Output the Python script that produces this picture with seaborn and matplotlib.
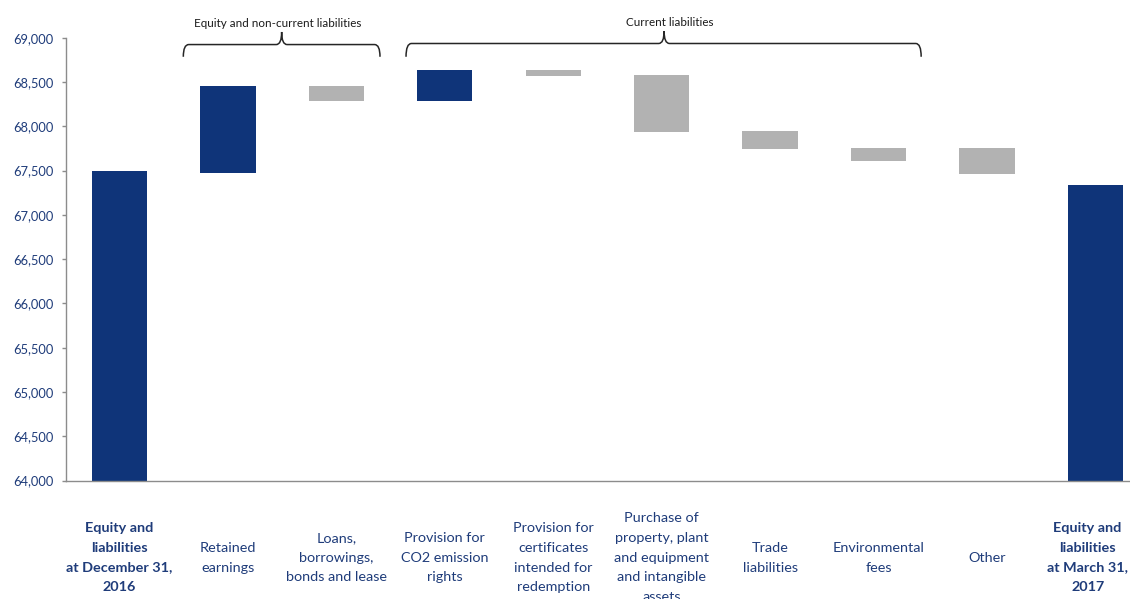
import matplotlib
matplotlib.use("Agg")
import matplotlib.pyplot as plt
from matplotlib.path import Path
from matplotlib.patches import PathPatch
from matplotlib.ticker import FuncFormatter
import seaborn as sns
import pandas as pd

# Movement of equity and liabilities, Dec 31, 2016 -> Mar 31, 2017
categories = [
    "Equity and\nliabilities\nat December 31,\n2016",
    "Retained\nearnings",
    "Loans,\nborrowings,\nbonds and lease",
    "Provision for\nCO2 emission\nrights",
    "Provision for\ncertificates\nintended for\nredemption",
    "Purchase of\nproperty, plant\nand equipment\nand intangible\nassets",
    "Trade\nliabilities",
    "Environmental\nfees",
    "Other",
    "Equity and\nliabilities\nat March 31,\n2017",
]
bar_low = [0, 67470, 68280, 68280, 68570, 67935, 67745, 67607, 67456, 0]
bar_high = [67490, 68460, 68460, 68635, 68635, 68580, 67950, 67757, 67757, 67336]
bar_kind = ["total", "increase", "decrease", "increase", "decrease",
            "decrease", "decrease", "decrease", "decrease", "total"]
y_ticks = [64000, 64500, 65000, 65500, 66000, 66500, 67000, 67500, 68000, 68500, 69000]
group_labels = ["Equity and non-current liabilities", "Current liabilities"]

NAVY = "#0F3479"
GREY = "#B2B2B2"
LABEL_BLUE = "#1F3C7A"
SPINE = "#8C8C8C"

sns.set_theme(style="white")
plt.rcParams["font.family"] = ["Lato", "DejaVu Sans"]

df = pd.DataFrame({
    "category": categories,
    "low": bar_low,
    "high": bar_high,
    "kind": bar_kind,
})
df["span"] = df["high"] - df["low"]
colors = {"total": NAVY, "increase": NAVY, "decrease": GREY}
palette = {c: colors[k] for c, k in zip(df["category"], df["kind"])}

fig = plt.figure(figsize=(11.3, 5.99), dpi=100)
ax = fig.add_axes([0.0584, 0.1978, 0.9416, 0.7392])

sns.barplot(data=df, x="category", y="span", hue="category", palette=palette,
            order=categories, hue_order=categories, width=0.51,
            legend=False, saturation=1, ax=ax)
# float each bar from its lower value
for patch, lo in zip(ax.patches, df["low"]):
    patch.set_y(lo)
    patch.set_linewidth(0)

ax.set_ylim(64000, 69000)
ax.set_xlim(-0.493, 9.32)
ax.set_yticks(y_ticks)
ax.yaxis.set_major_formatter(FuncFormatter(lambda v, _: f"{int(v):,}"))
ax.tick_params(axis="y", colors=SPINE, labelcolor=LABEL_BLUE, labelsize=9.3,
               length=3, width=1, direction="out", left=True, pad=6)
ax.tick_params(axis="x", bottom=False, labelbottom=False)
ax.set_xlabel("")
ax.set_ylabel("")
for side in ["top", "right"]:
    ax.spines[side].set_visible(False)
for side in ["left", "bottom"]:
    ax.spines[side].set_color(SPINE)
    ax.spines[side].set_linewidth(1)

# category labels, centred in a band below the axis
for i, lab in enumerate(categories):
    bold = bar_kind[i] == "total"
    dx = -5.5 if i == len(categories) - 1 else 0
    ax.annotate(lab, xy=(i, 0), xycoords=("data", "axes fraction"),
                xytext=(dx, -55.5), textcoords="offset points",
                ha="center", va="center", fontsize=10.4,
                fontweight="bold" if bold else "normal",
                color=LABEL_BLUE, linespacing=1.78, annotation_clip=False)


def brace(ax, x0, x1, xm, y_end, y_line, y_peak, rx=0.05):
    verts = [
        (x0, y_end), (x0, y_line), (x0 + rx, y_line),
        (xm - rx, y_line), (xm, y_line), (xm, y_peak),
        (xm, y_line), (xm + rx, y_line),
        (x1 - rx, y_line), (x1, y_line), (x1, y_end),
    ]
    codes = [Path.MOVETO, Path.CURVE3, Path.CURVE3,
             Path.LINETO, Path.CURVE3, Path.CURVE3,
             Path.CURVE3, Path.CURVE3,
             Path.LINETO, Path.CURVE3, Path.CURVE3]
    ax.add_patch(PathPatch(Path(verts, codes), fill=False, lw=1.1,
                           edgecolor="#262626", clip_on=False))


brace(ax, 0.589, 2.403, 1.496, 68785, 68923, 69065)
brace(ax, 2.643, 7.394, 5.023, 68785, 68935, 69075)
ax.text(1.462, 69165, group_labels[0], ha="center", va="center",
        fontsize=8.4, color="#1A1A1A", clip_on=False)
ax.text(5.078, 69170, group_labels[1], ha="center", va="center",
        fontsize=8.4, color="#1A1A1A", clip_on=False)

fig.savefig("out.png", dpi=100)
